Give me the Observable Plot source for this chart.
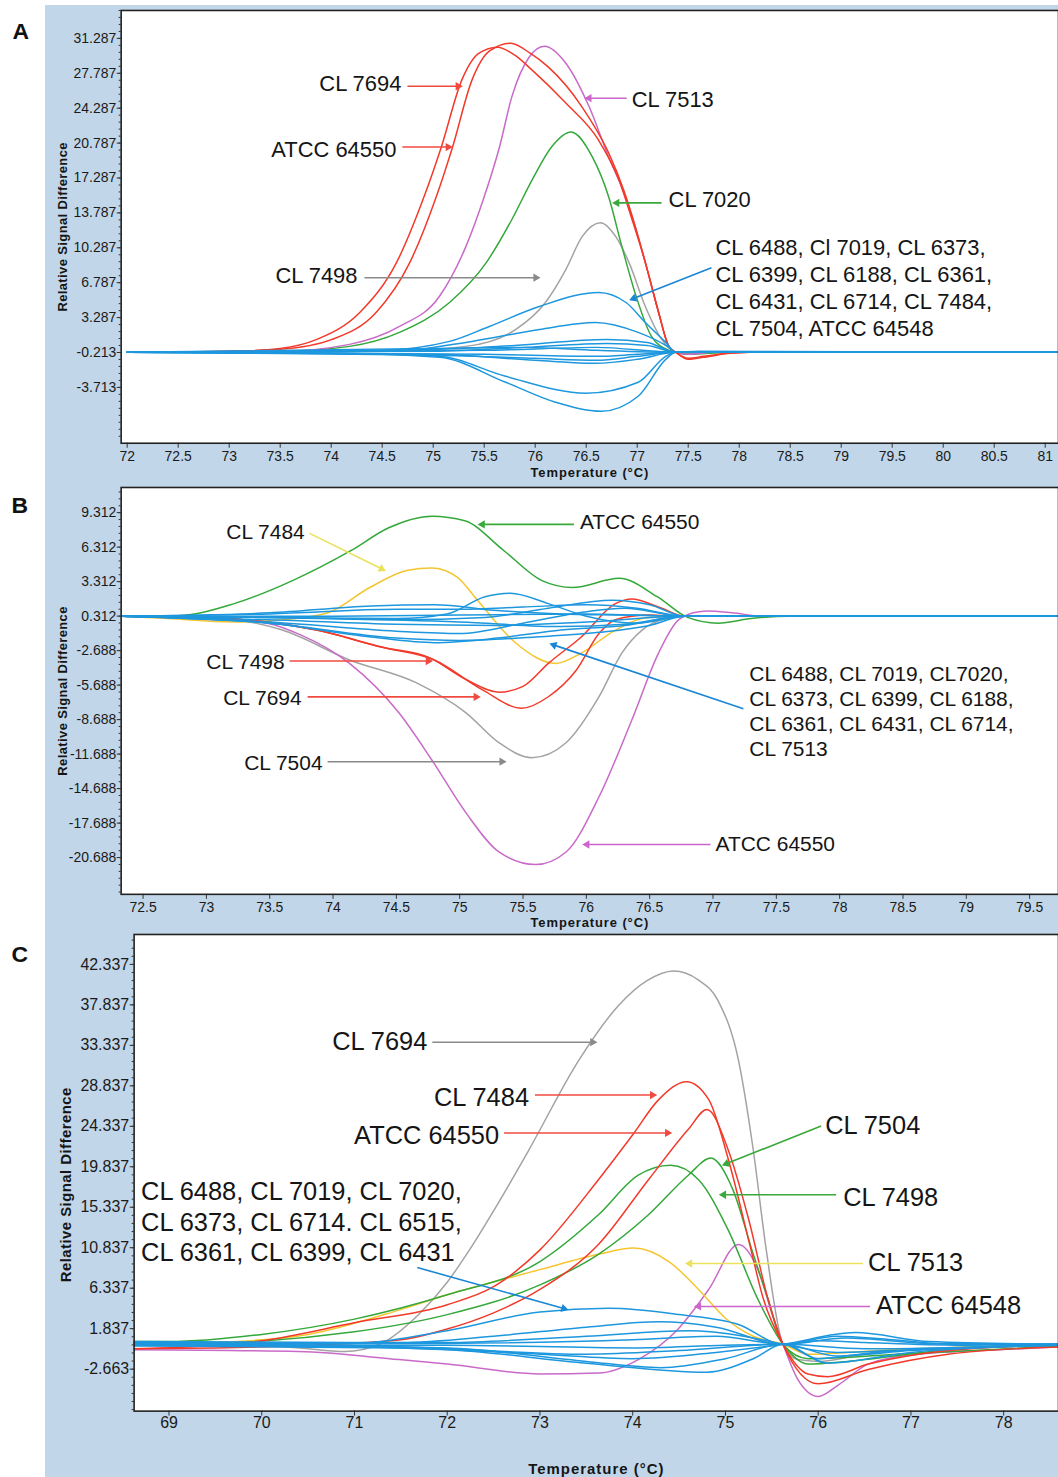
<!DOCTYPE html>
<html><head><meta charset="utf-8">
<script src="https://cdn.jsdelivr.net/npm/d3@7"></script>
<script src="https://cdn.jsdelivr.net/npm/@observablehq/plot@0.6"></script>
<style>
body{margin:0;background:#fff;}
#page{position:relative;width:1058px;height:1477px;overflow:hidden;background:#fff;font-family:"Liberation Sans",Arial,sans-serif;}
#bg{position:absolute;left:45px;top:5px;right:0;bottom:0;background:#c1d6e9;}
.panel{position:absolute;left:0;}
</style></head><body><div id="page"><div id="bg"></div></div>
<script>
const RED = "#f23a2a", MAG = "#c96ac9", GRN = "#34a83a", GRY = "#a3a3a3", BLU = "#1d97de", YEL = "#f5c52e";
const ARED = "#f04a40", AMAG = "#cc66cc", AGRN = "#3aa83a", AGRY = "#8a8a8a", ABLU = "#1a86d6", AYEL = "#e9e25a";

// ---------- Panel A data: [temperature, relative signal difference] ----------
const A_xTicks = [72,72.5,73,73.5,74,74.5,75,75.5,76,76.5,77,77.5,78,78.5,79,79.5,80,80.5,81];
const A_yTicks = [31.287,27.787,24.287,20.787,17.287,13.787,10.287,6.787,3.287,-0.213,-3.713];
const A_CL7694 = [[72,-0.2],[73,-0.1],[73.5,0.2],[73.86,1.1],[74.28,3.8],[74.64,8.8],[74.91,15.4],[75.08,20.4],[75.28,27.1],[75.45,29.8],[75.63,30.4],[75.8,29.6],[75.97,28.1],[76.3,24.8],[76.62,21.1],[76.82,17.1],[76.95,13.1],[77.08,8.8],[77.21,3.8],[77.31,0.4],[77.38,-0.2],[77.5,-0.8],[77.65,-0.6],[77.9,-0.3],[78.1,-0.2]];
const A_ATCC64550 = [[72,-0.2],[73,-0.1],[73.5,0.1],[74.01,1.1],[74.44,3.8],[74.77,8.8],[75.03,15.4],[75.19,20.4],[75.38,27.1],[75.55,30.0],[75.76,30.8],[75.95,29.8],[76.13,28.4],[76.46,24.4],[76.72,19.8],[76.87,16.0],[76.97,12.8],[77.08,8.8],[77.21,3.8],[77.31,0.4],[77.38,-0.2],[77.5,-0.9],[77.65,-0.7],[77.9,-0.3],[78.1,-0.2]];
const A_CL7513 = [[72,-0.2],[73.5,-0.1],[74.18,0.6],[74.67,2.4],[75.06,5.4],[75.32,10.4],[75.5,15.4],[75.65,20.4],[75.77,25.4],[75.94,29.4],[76.09,30.5],[76.3,28.8],[76.53,24.4],[76.72,19.4],[76.87,15.8],[76.98,12.4],[77.08,8.8],[77.21,3.8],[77.31,0.4],[77.38,-0.2],[77.5,-0.4],[77.7,-0.2]];
const A_CL7020 = [[72,-0.2],[73.5,-0.1],[74.18,0.4],[74.67,1.8],[75.16,4.8],[75.52,8.8],[75.77,13.1],[75.97,17.1],[76.16,20.4],[76.35,21.9],[76.56,19.4],[76.72,15.4],[76.85,10.4],[76.99,5.4],[77.14,1.4],[77.31,0.0],[77.38,-0.2],[77.5,-0.4],[77.7,-0.3],[78,-0.2]];
const A_CL7498 = [[72,-0.2],[74.5,-0.1],[75.32,0.4],[75.81,2.1],[76.1,4.8],[76.3,8.1],[76.46,11.4],[76.64,12.8],[76.79,11.4],[76.92,8.8],[77.08,4.4],[77.24,1.1],[77.38,-0.2],[77.5,-0.3],[77.8,-0.2]];
const A_blue1 = [[72,-0.2],[74.47,0.0],[75.16,0.9],[75.55,2.4],[76.04,4.4],[76.62,5.8],[76.89,4.8],[77.08,2.8],[77.28,0.8],[77.38,-0.2],[77.6,-0.1],[81.13,-0.2]];
const A_blue2 = [[72,-0.2],[74.6,-0.1],[75.38,0.9],[76.04,2.1],[76.59,2.8],[77.01,1.8],[77.31,0.3],[77.38,-0.2],[81.13,-0.2]];
const A_blue3 = [[72,-0.2],[75.0,0.1],[75.8,0.5],[76.7,1.1],[77.1,0.8],[77.38,-0.2],[81.13,-0.2]];
const A_blue4 = [[72,-0.2],[75.0,-0.1],[75.9,0.3],[76.7,0.7],[77.1,0.5],[77.38,-0.2],[81.13,-0.2]];
const A_blue5 = [[72,-0.2],[75.5,0.0],[76.6,0.3],[77.38,-0.2],[81.13,-0.2]];
const A_blue6 = [[72,-0.2],[75.5,-0.4],[76.6,-0.6],[77.0,-0.4],[77.38,-0.2],[81.13,-0.2]];
const A_blue7 = [[72,-0.2],[75.0,-0.5],[76.0,-0.8],[76.6,-1.0],[77.0,-0.6],[77.38,-0.2],[81.13,-0.2]];
const A_blue8 = [[72,-0.2],[75.0,-0.4],[76.0,-1.0],[76.59,-1.3],[77.0,-0.9],[77.38,-0.2],[81.13,-0.2]];
const A_blue9 = [[72,-0.2],[74.0,-0.3],[75.06,-0.6],[75.71,-2.6],[76.5,-4.3],[77.01,-3.2],[77.28,-0.6],[77.38,-0.2],[81.13,-0.2]];
const A_blue10 = [[72,-0.2],[74.0,-0.3],[75.06,-0.7],[75.71,-3.2],[76.2,-5.2],[76.65,-6.1],[77.01,-4.6],[77.28,-0.9],[77.38,-0.2],[81.13,-0.2]];
const A_blue11 = [[72,-0.2],[75.0,0.2],[75.9,0.3],[76.6,0.0],[77.38,-0.2],[81.13,-0.2]];

// ---------- Panel B data ----------
const B_xTicks = [72.5,73,73.5,74,74.5,75,75.5,76,76.5,77,77.5,78,78.5,79,79.5];
const B_yTicks = [9.312,6.312,3.312,0.312,-2.688,-5.688,-8.688,-11.688,-14.688,-17.688,-20.688];
const B_ATCC64550g = [[72.33,0.3],[72.78,0.35],[73.22,1.4],[73.68,3.4],[74.14,6.0],[74.44,8.0],[74.78,9.0],[75.04,8.6],[75.35,6.0],[75.65,3.4],[75.89,2.8],[76.26,3.6],[76.56,2.0],[76.8,0.2],[77.04,-0.3],[77.3,0.1],[77.6,0.3],[79.73,0.3]];
const B_CL7484 = [[72.33,0.3],[72.7,0.1],[73.2,-0.2],[73.6,0.0],[73.96,0.6],[74.29,2.8],[74.59,4.3],[74.78,4.5],[74.98,3.7],[75.14,1.7],[75.44,-2.0],[75.76,-3.8],[75.96,-2.9],[76.23,-0.9],[76.49,0.2],[76.78,0.3],[79.73,0.3]];
const B_CL7498 = [[72.33,0.3],[73.0,0.2],[73.48,-0.2],[73.87,-0.9],[74.39,-2.4],[74.76,-3.3],[75.05,-5.2],[75.31,-6.3],[75.5,-5.8],[75.7,-3.8],[75.96,-1.5],[76.23,1.4],[76.36,1.8],[76.57,1.1],[76.78,0.3],[77.0,0.3],[79.73,0.3]];
const B_CL7694 = [[72.33,0.3],[73.0,0.2],[73.48,-0.2],[73.87,-0.9],[74.39,-2.4],[74.8,-3.5],[75.18,-6.1],[75.49,-7.7],[75.7,-6.7],[75.92,-4.4],[76.1,-1.2],[76.23,0.0],[76.49,0.4],[76.78,0.3],[79.73,0.3]];
const B_CL7504 = [[72.33,0.3],[73.0,0.2],[73.6,-0.9],[74.13,-3.5],[74.66,-5.5],[75.05,-8.1],[75.31,-10.7],[75.57,-12.0],[75.84,-10.7],[76.1,-6.7],[76.28,-2.9],[76.44,-0.9],[76.63,0.1],[76.78,0.3],[79.73,0.3]];
const B_ATCC64550m = [[72.33,0.3],[73.0,0.2],[73.48,-0.3],[73.74,-1.3],[74.13,-3.8],[74.52,-8.1],[74.78,-12.2],[75.05,-16.8],[75.31,-20.2],[75.6,-21.3],[75.84,-20.2],[76.1,-15.4],[76.36,-8.7],[76.57,-2.9],[76.73,0.0],[76.89,0.7],[76.96,0.75],[77.15,0.6],[77.4,0.3],[79.73,0.3]];
const B_blue1 = [[72.33,0.3],[73.5,0.2],[74.5,0.1],[74.9,0.5],[75.2,2.0],[75.4,2.3],[75.7,1.4],[76.0,0.3],[76.4,-0.3],[76.78,0.3],[79.73,0.3]];
const B_blue2 = [[72.33,0.3],[73.5,0.6],[74.3,1.2],[74.8,1.3],[75.3,0.8],[75.8,0.5],[76.3,0.4],[76.78,0.3],[79.73,0.3]];
const B_blue3 = [[72.33,0.3],[73.5,0.2],[74.5,0.0],[75.2,0.2],[75.7,1.0],[76.2,1.7],[76.5,1.3],[76.78,0.3],[79.73,0.3]];
const B_blue4 = [[72.33,0.3],[73.5,0.5],[74.5,0.9],[75.0,0.9],[75.5,1.1],[76.0,1.3],[76.4,1.0],[76.78,0.3],[79.73,0.3]];
const B_blue5 = [[72.33,0.3],[74,0.3],[75,0.4],[76,0.5],[76.78,0.3],[79.73,0.3]];
const B_blue6 = [[72.33,0.3],[73.5,0.0],[74.5,-0.4],[75.3,-0.5],[76.0,-0.2],[76.78,0.3],[79.73,0.3]];
const B_blue7 = [[72.33,0.3],[73.5,-0.2],[74.5,-1.0],[75.0,-1.2],[75.5,-0.3],[76.0,0.7],[76.3,1.0],[76.78,0.3],[79.73,0.3]];
const B_blue8 = [[72.33,0.3],[73.5,-0.3],[74.3,-1.5],[74.8,-2.0],[75.3,-1.6],[75.8,-0.9],[76.3,-0.5],[76.78,0.3],[79.73,0.3]];
const B_blue9 = [[72.33,0.3],[73.5,-0.3],[74.5,-1.6],[75.0,-1.8],[75.6,-1.5],[76.1,-1.1],[76.5,-0.5],[76.78,0.3],[79.73,0.3]];
const B_blue10 = [[72.33,0.3],[74,0.1],[75,-0.2],[75.8,-0.6],[76.3,-0.4],[76.78,0.3],[79.73,0.3]];

// ---------- Panel C data ----------
const C_xTicks = [69,70,71,72,73,74,75,76,77,78];
const C_yTicks = [42.337,37.837,33.337,28.837,24.337,19.837,15.337,10.837,6.337,1.837,-2.663];
const C_CL7694 = [[68.62,0.3],[69.5,0.2],[70.4,-0.3],[70.9,-0.7],[71.27,0.1],[71.7,3.5],[72.0,7.0],[72.24,10.6],[72.55,15.8],[72.88,21.7],[73.42,31.7],[73.85,37.8],[74.15,40.5],[74.44,41.6],[74.71,40.6],[74.92,38.3],[75.14,31.7],[75.3,21.7],[75.44,10.6],[75.62,0.1],[75.78,-1.6],[76.0,-1.8],[76.5,-1.0],[77.0,-0.5],[78.59,0.1]];
const C_CL7484 = [[68.62,-0.4],[69.5,0.0],[70.0,0.5],[71.0,2.5],[72.0,4.5],[72.5,6.5],[73.0,10.6],[73.63,18.4],[74.0,23.4],[74.28,27.3],[74.58,29.3],[74.82,27.3],[75.03,20.7],[75.25,11.7],[75.41,5.1],[75.62,0.1],[75.89,-3.2],[76.1,-3.5],[76.54,-2.1],[77.08,-1.0],[77.94,-0.2],[78.59,0.0]];
const C_ATCC64550 = [[68.62,-0.4],[69.5,-0.3],[70.5,0.0],[71.5,0.6],[72.0,1.8],[72.5,3.6],[73.0,6.2],[73.63,11.2],[74.17,18.4],[74.6,24.0],[74.8,26.2],[75.03,21.7],[75.25,14.0],[75.46,5.1],[75.62,0.1],[76.0,-4.3],[76.54,-2.7],[77.4,-1.0],[78.59,-0.2]];
const C_CL7498 = [[68.62,0.4],[69.0,0.4],[70.0,1.2],[71.0,2.9],[72.0,5.6],[73.0,9.3],[73.63,14.5],[74.06,18.9],[74.41,20.0],[74.71,18.4],[75.03,12.8],[75.35,5.1],[75.62,0.1],[75.89,-2.1],[76.32,-1.8],[77.4,-0.5],[78.59,0.0]];
const C_CL7504 = [[68.62,0.1],[69.0,0.1],[71.0,1.5],[72.0,3.4],[73.0,6.7],[73.63,10.1],[74.17,14.5],[74.6,18.9],[74.84,20.8],[75.08,17.3],[75.3,10.1],[75.46,5.1],[75.62,0.1],[75.89,-1.5],[76.86,-1.0],[78.59,-0.1]];
const C_CL7513 = [[68.62,0.1],[69.5,0.3],[70.5,1.2],[71.48,3.9],[72.0,5.6],[73.0,8.4],[73.63,10.1],[74.01,10.8],[74.39,9.3],[74.71,6.2],[75.0,3.0],[75.3,1.0],[75.62,0.1],[75.89,-1.0],[76.8,-0.5],[78.59,0.0]];
const C_ATCC64548 = [[68.62,-0.5],[70.4,-0.7],[71.48,-1.6],[72.0,-2.1],[73.0,-3.2],[73.63,-3.1],[74.06,-1.6],[74.49,1.8],[74.82,6.2],[75.14,11.2],[75.35,8.4],[75.52,2.9],[75.62,0.1],[75.78,-3.8],[76.0,-5.7],[76.22,-4.4],[76.54,-2.1],[77.08,-1.0],[77.94,-0.5],[78.59,-0.2]];
const C_blue1 = [[68.62,0.3],[70.95,0.2],[72.0,1.6],[73.0,3.7],[73.74,4.1],[74.5,3.4],[75.14,2.3],[75.62,0.1],[76.0,0.5],[76.5,0.3],[77.5,0.0],[78.59,0.1]];
const C_blue2 = [[68.62,0.4],[71.5,0.3],[72.5,1.0],[73.5,2.0],[74.28,2.6],[74.9,2.0],[75.62,0.1],[76.2,1.0],[76.8,0.6],[77.5,0.1],[78.59,0.1]];
const C_blue3 = [[68.62,0.2],[72.0,0.3],[73.5,1.0],[74.6,1.6],[75.2,1.0],[75.62,0.1],[76.2,-0.8],[77,-0.5],[78.59,0.1]];
const C_blue4 = [[68.62,0.1],[72.0,0.2],[74.0,0.6],[74.9,1.0],[75.62,0.1],[76.3,0.8],[77.2,0.2],[78.59,0.1]];
const C_blue5 = [[68.62,0.0],[72,0.0],[74.0,-0.3],[75.0,0.0],[75.62,0.1],[76.5,-0.4],[78.59,0.1]];
const C_blue6 = [[68.62,0.0],[71.5,-0.2],[73.5,-1.0],[74.5,-0.6],[75.62,0.1],[76.2,-1.2],[77.0,-0.6],[78.59,0.0]];
const C_blue7 = [[68.62,-0.1],[71.5,-0.3],[73.0,-1.0],[74.0,-1.5],[74.9,-0.8],[75.62,0.1],[76.4,1.4],[77.2,0.4],[78.59,0.1]];
const C_blue8 = [[68.62,0.2],[72.0,-0.3],[73.5,-1.8],[74.3,-2.5],[75.0,-1.5],[75.62,0.1],[76.0,-1.5],[76.6,-0.8],[78.59,0.0]];
const C_blue9 = [[68.62,0.3],[72.0,-0.5],[73.5,-2.0],[74.8,-3.0],[75.3,-1.5],[75.62,0.1],[76.1,-2.0],[77.0,-0.8],[78.59,0.0]];

// ---------- annotations (data units) ----------
const A_labels = [
  {x:74.688,y:26.9,text:"CL 7694",anchor:"end"},
  {x:74.639,y:20.29,text:"ATCC 64550",anchor:"end"},
  {x:76.946,y:25.29,text:"CL 7513",anchor:"start"},
  {x:77.308,y:15.29,text:"CL 7020",anchor:"start"},
  {x:74.258,y:7.59,text:"CL 7498",anchor:"end"},
  {x:77.767,y:6.337,text:"CL 6488, Cl 7019, CL 6373,\nCL 6399, CL 6188, CL 6361,\nCL 6431, CL 6714, CL 7484,\nCL 7504, ATCC 64548",anchor:"start"}
];
const A_arrows = [
  {x1:74.747,y1:26.49,x2:75.275,y2:26.49,c:ARED},
  {x1:74.698,y1:20.39,x2:75.177,y2:20.39,c:ARED},
  {x1:76.897,y1:25.29,x2:76.497,y2:25.29,c:AMAG},
  {x1:77.239,y1:14.79,x2:76.770,y2:14.79,c:AGRN},
  {x1:74.326,y1:7.29,x2:76.037,y2:7.29,c:AGRY},
  {x1:77.728,y1:8.29,x2:76.936,y2:5.09,c:ABLU}
];
const B_labels = [
  {x:73.776,y:7.684,text:"CL 7484",anchor:"end"},
  {x:75.949,y:8.551,text:"ATCC 64550",anchor:"start"},
  {x:73.618,y:-3.591,text:"CL 7498",anchor:"end"},
  {x:73.752,y:-6.713,text:"CL 7694",anchor:"end"},
  {x:73.917,y:-12.35,text:"CL 7504",anchor:"end"},
  {x:77.02,y:-19.462,text:"ATCC 64550",anchor:"start"},
  {x:77.287,y:-7.927,text:"CL 6488, CL 7019, CL7020,\nCL 6373, CL 6399, CL 6188,\nCL 6361, CL 6431, CL 6714,\nCL 7513",anchor:"start"}
];
const B_arrows = [
  {x1:73.815,y1:7.511,x2:74.406,y2:4.302,c:AYEL},
  {x1:75.902,y1:8.291,x2:75.154,y2:8.291,c:AGRN},
  {x1:73.657,y1:-3.591,x2:74.776,y2:-3.591,c:ARED},
  {x1:73.799,y1:-6.713,x2:75.154,y2:-6.713,c:ARED},
  {x1:73.957,y1:-12.35,x2:75.358,y2:-12.35,c:AGRY},
  {x1:76.98,y1:-19.55,x2:75.98,y2:-19.55,c:AMAG},
  {x1:77.24,y1:-7.754,x2:75.72,y2:-2.116,c:ABLU}
];
const C_labels = [
  {x:71.785,y:33.91,text:"CL 7694",anchor:"end"},
  {x:72.882,y:27.7,text:"CL 7484",anchor:"end"},
  {x:72.559,y:23.49,text:"ATCC 64550",anchor:"end"},
  {x:76.075,y:24.6,text:"CL 7504",anchor:"start"},
  {x:76.269,y:16.62,text:"CL 7498",anchor:"start"},
  {x:76.538,y:9.30,text:"CL 7513",anchor:"start"},
  {x:76.624,y:4.53,text:"ATCC 64548",anchor:"start"},
  {x:68.699,y:13.845,text:"CL 6488, CL 7019, CL 7020,\nCL 6373, CL 6714. CL 6515,\nCL 6361, CL 6399, CL 6431",anchor:"start"}
];
const C_arrows = [
  {x1:71.839,y1:33.69,x2:73.602,y2:33.69,c:AGRY},
  {x1:72.946,y1:27.81,x2:74.247,y2:27.81,c:ARED},
  {x1:72.613,y1:23.6,x2:74.409,y2:23.6,c:ARED},
  {x1:76.032,y1:24.37,x2:74.978,y2:20.05,c:AGRN},
  {x1:76.194,y1:16.73,x2:74.946,y2:16.73,c:AGRN},
  {x1:76.484,y1:9.08,x2:74.581,y2:9.08,c:AYEL},
  {x1:76.559,y1:4.31,x2:74.677,y2:4.31,c:AMAG},
  {x1:71.677,y1:8.634,x2:73.29,y2:3.98,c:ABLU}
];

const FONT = '"Liberation Sans", Arial, sans-serif';

function panel(cfg) {
  const W = 1061;
  const [y0, y1] = cfg.yDomain;
  const kx = (W - cfg.marginLeft) / (cfg.xDomain[1] - cfg.xDomain[0]);
  const ky = (cfg.height - cfg.marginTop - cfg.marginBottom) / (y1 - y0);
  // arrow heads: filled triangles at the arrow tips
  const heads = cfg.arrows.map(a => {
    const px = (a.x2 - a.x1) * kx, py = -(a.y2 - a.y1) * ky;
    const len = Math.hypot(px, py), ux = px / len, uy = py / len;
    return {x: a.x2 - 3.2 * ux / kx, y: a.y2 + 3.2 * uy / ky, rot: Math.atan2(ux, -uy) * 180 / Math.PI, c: a.c};
  });
  const shafts = cfg.arrows.map(a => {
    const px = (a.x2 - a.x1) * kx, py = -(a.y2 - a.y1) * ky;
    const len = Math.hypot(px, py), ux = px / len, uy = py / len;
    return {x1: a.x1, y1: a.y1, x2: a.x2 - 5 * ux / kx, y2: a.y2 + 5 * uy / ky, c: a.c};
  });
  const step = cfg.yTicks[0] - cfg.yTicks[1];
  const minor = d3.range(cfg.yTicks[cfg.yTicks.length-1] - 30*step/5, y1, step/5).filter(v => v >= y0 && v <= y1);
  const lines = [];
  for (const s of cfg.series) lines.push(Plot.line(s.pts, {x: d => d[0], y: d => d[1], stroke: s.color, strokeWidth: 1.5, curve: "monotone-x", clip: true}));
  for (const b of cfg.blues) lines.push(Plot.line(b, {x: d => d[0], y: d => d[1], stroke: BLU, strokeWidth: 1.5, curve: "monotone-x", clip: true}));
  const textOpts = {x: "x", y: "y", text: "text", fontSize: cfg.labelSize, lineHeight: cfg.lh, fill: "#151515"};
  const svg = Plot.plot({
    width: W, height: cfg.height,
    marginTop: cfg.marginTop, marginBottom: cfg.marginBottom, marginLeft: cfg.marginLeft, marginRight: 0,
    x: {domain: cfg.xDomain}, y: {domain: cfg.yDomain},
    color: {type: "identity"},
    style: {background: "transparent", fontFamily: FONT, fontSize: cfg.tickFont + "px", color: "#1a1a1a", overflow: "visible"},
    marks: [
      Plot.frame({fill: "white"}),
      Plot.axisY({ticks: minor, tickSize: 2, tickFormat: () => "", label: null, stroke: "#333"}),
      Plot.axisY({ticks: cfg.yTicks, tickSize: 4, tickPadding: 1, tickFormat: d => d.toFixed(3), label: null, fontSize: cfg.tickFont, stroke: "#333"}),
      Plot.axisX({ticks: cfg.xTicks, tickSize: 5, tickPadding: cfg.xTickPad, tickFormat: d => String(d), label: null, fontSize: cfg.tickFont, stroke: "#333"}),
      ...lines,
      Plot.frame({stroke: "#222", strokeWidth: 1.6}),
      Plot.link(shafts, {x1: "x1", y1: "y1", x2: "x2", y2: "y2", stroke: "c", strokeWidth: 1.6}),
      Plot.dot(heads, {x: "x", y: "y", rotate: "rot", symbol: "triangle", r: 3.1, fill: "c", stroke: "none"}),
      Plot.text(cfg.labels.filter(d => d.anchor === "end"), {...textOpts, textAnchor: "end"}),
      Plot.text(cfg.labels.filter(d => d.anchor === "start"), {...textOpts, textAnchor: "start"}),
      Plot.text(["Temperature (°C)"], {frameAnchor: "bottom", dy: cfg.xTitleDy, fontWeight: "bold", fontSize: cfg.titleFont, fill: "#151515"}),
      Plot.text(["Relative Signal Difference"], {frameAnchor: "left", dx: cfg.yTitleDx, dy: cfg.yTitleDy, rotate: -90, textAnchor: "middle", fontWeight: "bold", fontSize: cfg.titleFont, fill: "#151515"}),
      Plot.text([cfg.letter], {frameAnchor: "top-left", dx: cfg.letterDx, dy: cfg.letterDy, fontWeight: "bold", fontSize: 23, fill: "#111"})
    ]
  });
  d3.select(svg).selectAll("text").filter(function(){ return this.textContent === "Temperature (°C)"; }).attr("letter-spacing", cfg.xTitleLS + "px");
  d3.select(svg).selectAll("text").filter(function(){ return this.textContent === "Relative Signal Difference"; }).attr("letter-spacing", cfg.yTitleLS + "px");
  const div = document.createElement("div");
  div.className = "panel";
  div.style.top = cfg.top + "px";
  div.appendChild(svg);
  document.getElementById("page").appendChild(div);
}

panel({
  top: 0, height: 482, marginTop: 10, marginBottom: 38, marginLeft: 121,
  xDomain: [71.941, 81.13], yDomain: [-9.313, 34.087],
  xTicks: A_xTicks, yTicks: A_yTicks, tickFont: 14, xTickPad: 3, titleFont: 13, xTitleLS: 0.9, yTitleLS: 0.4,
  series: [
    {pts: A_CL7498, color: GRY}, {pts: A_CL7020, color: GRN}, {pts: A_CL7513, color: MAG},
    {pts: A_ATCC64550, color: RED}, {pts: A_CL7694, color: RED}
  ],
  blues: [A_blue1,A_blue2,A_blue3,A_blue4,A_blue5,A_blue6,A_blue7,A_blue8,A_blue9,A_blue10,A_blue11],
  labels: A_labels, arrows: A_arrows, labelSize: 22, lh: 1.227,
  xTitleDy: 34, yTitleDx: -58, yTitleDy: 0, letter: "A", letterDx: -109, letterDy: 12
});
panel({
  top: 482, height: 447, marginTop: 5, marginBottom: 34, marginLeft: 121,
  xDomain: [72.327, 79.728], yDomain: [-23.885, 11.50],
  xTicks: B_xTicks, yTicks: B_yTicks, tickFont: 14, xTickPad: 3, titleFont: 13, xTitleLS: 0.9, yTitleLS: 0.4,
  series: [
    {pts: B_CL7504, color: GRY}, {pts: B_ATCC64550m, color: MAG}, {pts: B_CL7484, color: YEL},
    {pts: B_ATCC64550g, color: GRN}, {pts: B_CL7498, color: RED}, {pts: B_CL7694, color: RED}
  ],
  blues: [B_blue1,B_blue2,B_blue3,B_blue4,B_blue5,B_blue6,B_blue7,B_blue8,B_blue9,B_blue10],
  labels: B_labels, arrows: B_arrows, labelSize: 21, lh: 1.19,
  xTitleDy: 33, yTitleDx: -58, yTitleDy: 0, letter: "B", letterDx: -110, letterDy: 9
});
panel({
  top: 929, height: 548, marginTop: 5, marginBottom: 65, marginLeft: 134,
  xDomain: [68.624, 78.591], yDomain: [-7.33, 45.663],
  xTicks: C_xTicks, yTicks: C_yTicks, tickFont: 16, xTickPad: 1, titleFont: 15, xTitleLS: 1.0, yTitleLS: 0.45,
  series: [
    {pts: C_CL7694, color: GRY}, {pts: C_ATCC64548, color: MAG}, {pts: C_CL7513, color: YEL},
    {pts: C_CL7498, color: GRN}, {pts: C_CL7504, color: GRN},
    {pts: C_ATCC64550, color: RED}, {pts: C_CL7484, color: RED}
  ],
  blues: [C_blue1,C_blue2,C_blue3,C_blue4,C_blue5,C_blue6,C_blue7,C_blue8,C_blue9],
  labels: C_labels, arrows: C_arrows, labelSize: 25.5, lh: 1.216,
  xTitleDy: 63, yTitleDx: -68, yTitleDy: 12, letter: "C", letterDx: -123, letterDy: 11
});
</script></body></html>
